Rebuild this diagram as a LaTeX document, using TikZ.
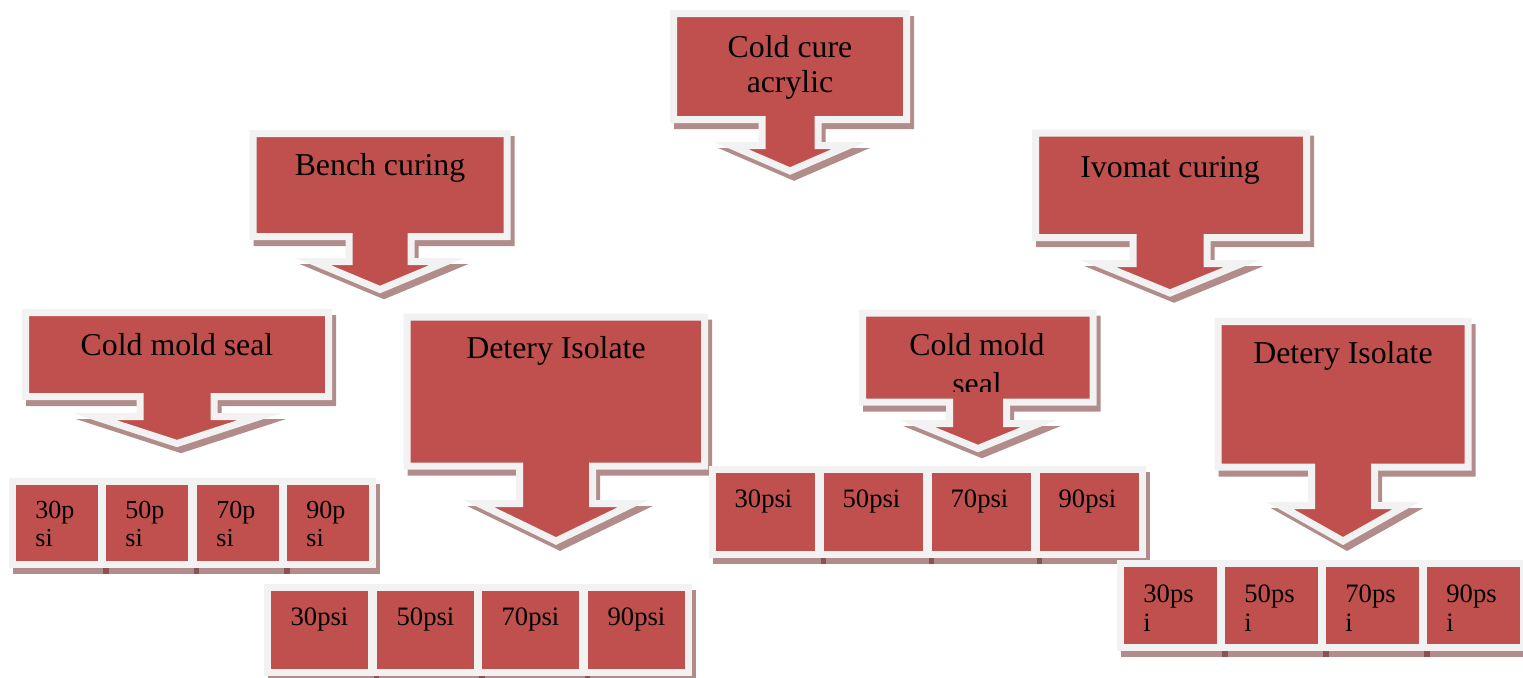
\documentclass[tikz,border=0pt]{standalone}
\usepackage{fontspec}
\setmainfont{Liberation Serif}
\definecolor{calloutred}{HTML}{C0504D}
\definecolor{rimwhite}{HTML}{F2F2F2}
\definecolor{dropgrey}{RGB}{178,140,139}
\definecolor{dropdark}{RGB}{101,25,23}
\newcommand{\arrowcallout}[9]{%
\foreach \sty/\dx/\dy in {calloutdrop/4/6,calloutbody/0/0}
  \draw[\sty,shift={(\dx,\dy)}] (#1,#2) -- (#3,#2) -- (#3,#4) -- ({#5+#6},#4) -- ({#5+#6},#7) -- ({#5+#8},#7) -- (#5,#9)
    -- ({#5-#8},#7) -- ({#5-#6},#7) -- ({#5-#6},#4) -- (#1,#4) -- cycle;}
\begin{document}
\begin{tikzpicture}[x=0.5pt,y=-0.5pt,
  calloutbody/.style={fill=calloutred,draw=rimwhite,line width=3.5pt,miter limit=10},
  calloutdrop/.style={fill=dropgrey,draw=dropgrey,line width=3.5pt,miter limit=10},
  boxbody/.style={fill=calloutred,draw=rimwhite,line width=3.5pt},
  boxdrop/.style={fill=dropdark,fill opacity=.5},
  title/.style={font=\fontsize{15.9}{17.5}\selectfont,anchor=base,inner sep=0pt},
  psi/.style={font=\fontsize{13.3}{14.5}\selectfont,anchor=base,inner sep=0pt}]
\useasboundingbox (0,0) rectangle (1523,677);
\arrowcallout{673.5}{13.5}{906.5}{119.5}{790}{28}{145.5}{59}{171}
\arrowcallout{253}{133.5}{507}{236.5}{380}{31}{261.5}{67}{289.5}
\arrowcallout{1035.5}{133}{1306.5}{237.5}{1170}{37}{263.5}{72}{293}
\arrowcallout{25.5}{312.5}{328.5}{396.5}{177}{37}{416.5}{83}{443.5}
\arrowcallout{407}{317}{704.5}{466}{556}{36.5}{503.5}{77.5}{541}
\arrowcallout{862.5}{313}{1093}{402}{978}{28.5}{423.5}{61}{448.5}
\arrowcallout{1218}{321.5}{1468}{467}{1343}{31.5}{505.5}{63}{541}
\node[title] (cure) at (790,57) {\parbox[t]{150pt}{\centering Cold cure\\acrylic}};
\node[title] (bench) at (380,175) {Bench curing};
\node[title] (ivomat) at (1170,177) {Ivomat curing};
\node[title] (moldL) at (177,355) {Cold mold seal};
\node[title] (isoL) at (556,358) {Detery Isolate};
\begin{scope}
  \clip (862,313) rectangle (1093,391);
  \node[title,font=\fontsize{15.9}{19.5}\selectfont] (moldR) at (977,355) {\parbox[t]{150pt}{\centering Cold mold\\seal}};
\end{scope}
\node[title] (isoR) at (1343,363) {Detery Isolate};
\foreach \x in {16,106,197,287}
  \fill[boxdrop] ({\x-3},484) rectangle ({\x+93},574);
\foreach \x/\p [count=\i] in {16/30,106/50,197/70,287/90}{
  \draw[boxbody] ({\x-3.5},481.5) rectangle ({\x+85.5},564.5);
  \node[psi,anchor=base west,font=\fontsize{13}{14}\selectfont] (a\i) at ({\x+19},518) {\parbox[t]{40pt}{\p p\\si}};}
\foreach \x in {271,377,482,588}
  \fill[boxdrop] ({\x-3},590) rectangle ({\x+108},682);
\foreach \x/\p [count=\i] in {271/30,377/50,482/70,588/90}{
  \draw[boxbody] ({\x-3.5},587.5) rectangle ({\x+100.5},672.5);
  \node[psi] (b\i) at ({\x+48.5},625) {\p psi};}
\foreach \x in {716,824,932,1040}
  \fill[boxdrop] ({\x-3},472) rectangle ({\x+110},564);
\foreach \x/\p [count=\i] in {716/30,824/50,932/70,1040/90}{
  \draw[boxbody] ({\x-3.5},469.5) rectangle ({\x+102.5},554.5);
  \node[psi] (c\i) at ({\x+47.5},507) {\p psi};}
\foreach \x in {1124,1225,1326,1427}
  \fill[boxdrop] ({\x-3},566) rectangle ({\x+104},657);
\foreach \x/\p [count=\i] in {1124/30,1225/50,1326/70,1427/90}{
  \draw[boxbody] ({\x-3.5},563.5) rectangle ({\x+96.5},647.5);
  \node[psi,anchor=base west] (d\i) at ({\x+19},602) {\parbox[t]{40pt}{\p ps\\i}};}
\end{tikzpicture}
\end{document}
